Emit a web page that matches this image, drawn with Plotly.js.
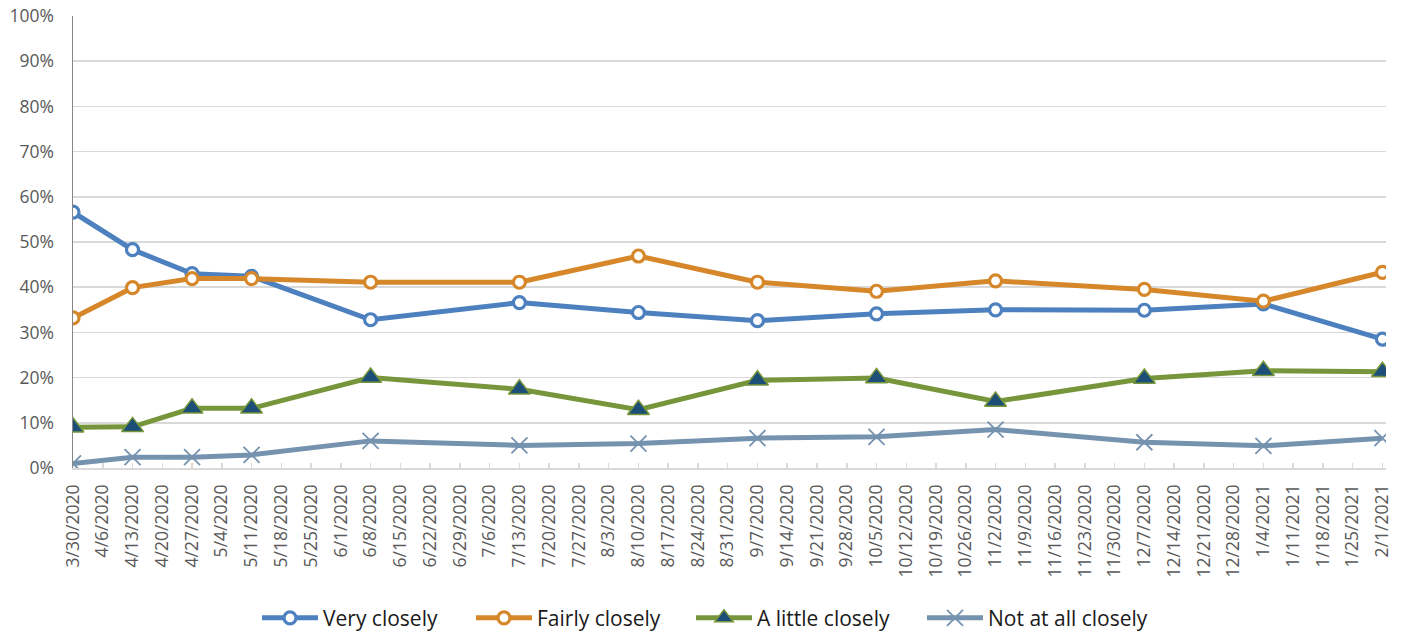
<!DOCTYPE html>
<html>
<head>
<meta charset="utf-8">
<script src="https://cdn.plot.ly/plotly-3.0.1.min.js"></script>
<style>
html,body{margin:0;padding:0;background:#fff;}
#chart{width:1408px;height:636px;}
</style>
</head>
<body>
<div id="chart"></div>
<script>
// Weekly category axis labels
const weeks = [
  "3/30/2020","4/6/2020","4/13/2020","4/20/2020","4/27/2020","5/4/2020","5/11/2020","5/18/2020",
  "5/25/2020","6/1/2020","6/8/2020","6/15/2020","6/22/2020","6/29/2020","7/6/2020","7/13/2020",
  "7/20/2020","7/27/2020","8/3/2020","8/10/2020","8/17/2020","8/24/2020","8/31/2020","9/7/2020",
  "9/14/2020","9/21/2020","9/28/2020","10/5/2020","10/12/2020","10/19/2020","10/26/2020","11/2/2020",
  "11/9/2020","11/16/2020","11/23/2020","11/30/2020","12/7/2020","12/14/2020","12/21/2020","12/28/2020",
  "1/4/2021","1/11/2021","1/18/2021","1/25/2021","2/1/2021"
];

// Survey dates (data points)
const surveyDates = [
  "3/30/2020","4/13/2020","4/27/2020","5/11/2020","6/8/2020","7/13/2020","8/10/2020",
  "9/7/2020","10/5/2020","11/2/2020","12/7/2020","1/4/2021","2/1/2021"
];

// Series values (%)
const veryClosely     = [56.6, 48.3, 43.0, 42.4, 32.8, 36.6, 34.4, 32.6, 34.1, 35.0, 34.9, 36.3, 28.5];
const fairlyClosely   = [33.2, 39.9, 41.9, 41.9, 41.1, 41.1, 46.9, 41.1, 39.1, 41.4, 39.5, 36.9, 43.3];
const aLittleClosely  = [9.0, 9.1, 13.2, 13.2, 20.0, 17.4, 12.9, 19.4, 19.9, 14.7, 19.8, 21.5, 21.3];
const notAtAllClosely = [1.0, 2.4, 2.4, 2.9, 6.0, 5.0, 5.4, 6.6, 6.9, 8.5, 5.7, 4.9, 6.6];

const seriesNames = ["Very closely", "Fairly closely", "A little closely", "Not at all closely"];

const traces = [
  {
    x: weeks, y: weeks.map(() => null), type: 'scatter', mode: 'lines',
    showlegend: false, hoverinfo: 'skip', line: {width: 0}
  },
  {
    x: surveyDates, y: veryClosely, name: seriesNames[0], type: 'scatter', mode: 'lines+markers',
    legend: 'legend',
    line: {color: '#4d80be', width: 5},
    marker: {symbol: 'circle', size: 12, color: '#ffffff', line: {color: '#4d80be', width: 3.2}}
  },
  {
    x: surveyDates, y: fairlyClosely, name: seriesNames[1], type: 'scatter', mode: 'lines+markers',
    legend: 'legend2',
    line: {color: '#d6872a', width: 5},
    marker: {symbol: 'circle', size: 12, color: '#ffffff', line: {color: '#d6872a', width: 3.2}}
  },
  {
    x: surveyDates, y: aLittleClosely, name: seriesNames[2], type: 'scatter', mode: 'lines+markers',
    legend: 'legend3',
    line: {color: '#77963b', width: 5},
    marker: {symbol: 'triangle-up', size: 19, color: '#1c4e78', line: {color: '#77963b', width: 1.5}}
  },
  {
    x: surveyDates, y: notAtAllClosely, name: seriesNames[3], type: 'scatter', mode: 'lines+markers',
    legend: 'legend4',
    line: {color: '#7592ae', width: 5},
    marker: {symbol: 'x-thin-open', size: 16, color: '#7592ae', line: {color: '#7592ae', width: 1.8}}
  }
];

function legendAt(px) {
  return {
    orientation: 'h', xref: 'container', yref: 'container',
    x: px / 1408, xanchor: 'left', y: 0.028, yanchor: 'middle',
    font: {size: 21, color: '#1a1a1a'}, itemwidth: 56,
    bgcolor: 'rgba(0,0,0,0)'
  };
}

const layout = {
  width: 1408, height: 636,
  margin: {l: 73, r: 22, t: 16, b: 168},
  paper_bgcolor: '#ffffff', plot_bgcolor: '#ffffff',
  font: {family: '"Open Sans", sans-serif', color: '#595959'},
  showlegend: true,
  legend: legendAt(257),
  legend2: legendAt(471),
  legend3: legendAt(691),
  legend4: legendAt(922),
  xaxis: {
    type: 'category', categoryorder: 'array', categoryarray: weeks,
    tickmode: 'array', tickvals: weeks, ticktext: weeks,
    range: [0, 44.12],
    tickangle: -90, tickfont: {size: 17.5, color: '#595959'},
    showgrid: false, zeroline: false,
    showline: true, linecolor: '#d9d9d9', linewidth: 1.5,
    ticks: 'inside', ticklen: 5, tickcolor: '#d9d9d9', tickwidth: 1.5,
    ticklabelstandoff: 8
  },
  yaxis: {
    range: [0, 100], dtick: 10, tick0: 0, ticksuffix: '%',
    tickfont: {size: 17.5, color: '#595959'},
    showgrid: true, gridcolor: '#d9d9d9', gridwidth: 1.5,
    zeroline: false, showline: true, linecolor: '#868686', linewidth: 1.5,
    ticks: '', ticklabelstandoff: 14
  }
};

Plotly.newPlot('chart', traces, layout, {displayModeBar: false, staticPlot: true});
</script>
</body>
</html>
